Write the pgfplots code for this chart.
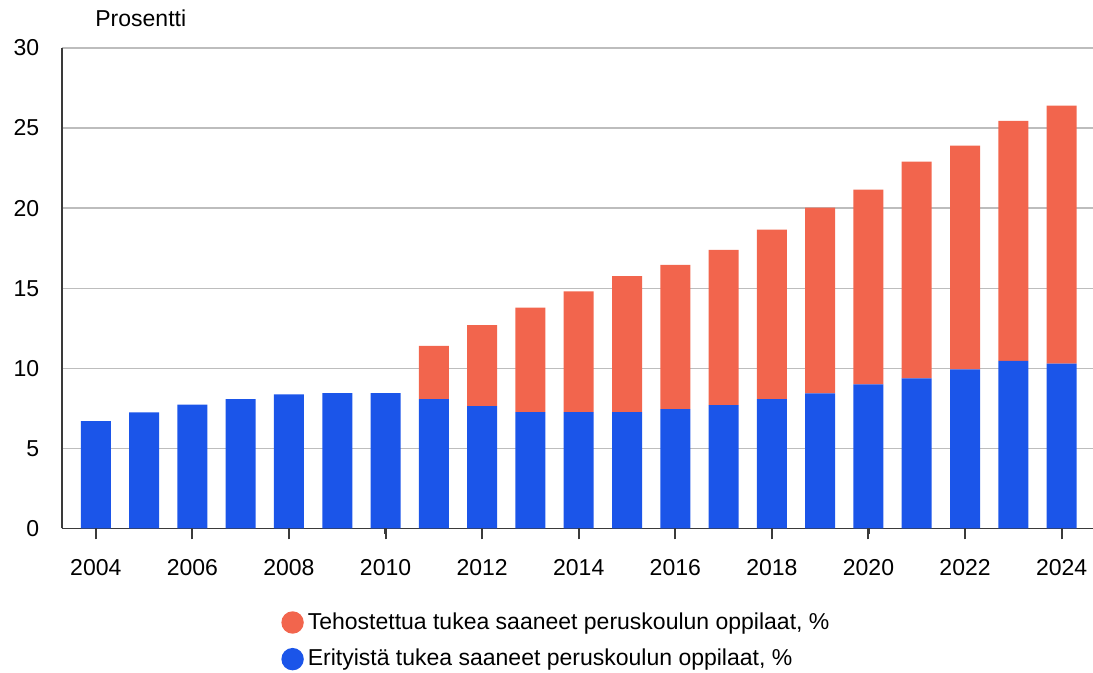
\documentclass[border=0pt]{standalone}
\usepackage{pgfplots}
\pgfplotsset{compat=1.18}
\usepackage{fontspec}
\setmainfont{Liberation Sans}
\definecolor{cblue}{HTML}{1B55E9}
\definecolor{corange}{HTML}{F2654D}
\definecolor{cgrid}{HTML}{BDBDBD}
\definecolor{caxis}{HTML}{3A3A3A}
\begin{document}
\begin{tikzpicture}[font=\fontsize{11.5pt}{14pt}\selectfont]
\path[use as bounding box] (0,0) rectangle (546.5pt,336.5pt);
\begin{axis}[
  at={(31pt,72.25pt)}, anchor=south west,
  width=515.5pt, height=240.25pt, scale only axis,
  xmin=2003.3, xmax=2024.65,
  ymin=0, ymax=30,
  ybar stacked, bar width=15pt,
  axis x line=bottom, axis y line=left,
  axis line style={-, draw=caxis, line width=0.8pt},
  xtick={2004,2006,...,2024},
  ytick={0,5,...,30},
  /pgf/number format/assume math mode=true,
  /pgf/number format/1000 sep={},
  xtick align=outside,
  major tick length=5.5pt,
  xtick style={draw=caxis, line width=1pt},
  ytick style={draw=none},
  ymajorgrids, grid style={draw=cgrid, line width=0.7pt},
  yticklabel style={inner sep=0pt, anchor=east, xshift=-8.5pt},
  xticklabel style={inner sep=0pt, anchor=north, yshift=-10pt},
  clip=false,
  reverse legend,
  legend style={at={(0.2124,-0.166)}, anchor=north west, draw=none, fill=none,
    inner sep=0pt, row sep=4.5pt, font=\fontsize{11.5pt}{14pt}\selectfont,
    /tikz/every even column/.append style={column sep=0pt}},
  legend cell align=left,
  legend image code/.code={\fill[#1] (0pt,0pt) circle (5.6pt);},
]
\addplot+[fill=cblue, draw=none] coordinates {
(2004,6.70) (2005,7.25) (2006,7.73) (2007,8.08) (2008,8.37) (2009,8.45) (2010,8.45)
(2011,8.08) (2012,7.64) (2013,7.27) (2014,7.27) (2015,7.27) (2016,7.45) (2017,7.70)
(2018,8.08) (2019,8.43) (2020,9.00) (2021,9.37) (2022,9.93) (2023,10.47) (2024,10.29)};
\addlegendentry{{Erityistä tukea saaneet peruskoulun oppilaat, \%}}
\addplot+[fill=corange, draw=none] coordinates {
(2004,0) (2005,0) (2006,0) (2007,0) (2008,0) (2009,0) (2010,0)
(2011,3.32) (2012,5.05) (2013,6.52) (2014,7.54) (2015,8.48) (2016,9.01) (2017,9.69)
(2018,10.58) (2019,11.61) (2020,12.16) (2021,13.54) (2022,13.97) (2023,14.98) (2024,16.11)};
\addlegendentry{{Tehostettua tukea saaneet peruskoulun oppilaat, \%}}
\node[anchor=west, inner sep=0pt] at (rel axis cs:0.032,1.0624) {Prosentti};
\end{axis}
% overlay axis carrying only the tick marks below the x axis line
\begin{axis}[
  at={(31pt,72.25pt)}, anchor=south west,
  width=515.5pt, height=240.25pt, scale only axis,
  xmin=2003.3, xmax=2024.65,
  ymin=0, ymax=30,
  hide axis, clip=false,
]
\addplot[ycomb, no marks, draw=caxis, line width=1.1pt] coordinates {
(2004,-0.36) (2006,-0.36) (2008,-0.36) (2010,-0.36) (2012,-0.36) (2014,-0.36)
(2016,-0.36) (2018,-0.36) (2020,-0.36) (2022,-0.36) (2024,-0.36)};
\end{axis}
\end{tikzpicture}
\end{document}
